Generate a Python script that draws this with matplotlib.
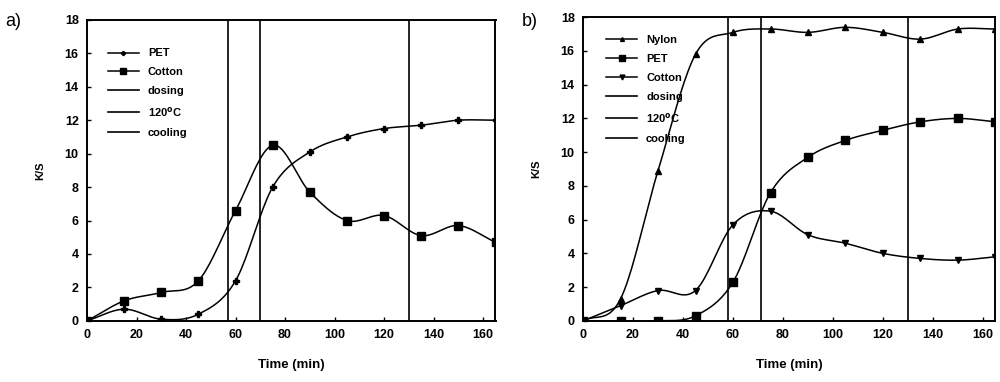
import numpy as np
import matplotlib
matplotlib.use("Agg")
import matplotlib.pyplot as plt

plt.rcParams["font.family"] = ["Liberation Sans", "DejaVu Sans"]
plt.rcParams["font.weight"] = "bold"

# --- data ----------------------------------------------------------------
TIME = [0, 15, 30, 45, 60, 75, 90, 105, 120, 135, 150, 165]

# panel a
A_PET = [0.0, 0.7, 0.1, 0.4, 2.4, 8.0, 10.1, 11.0, 11.5, 11.7, 12.0, 12.0]
A_COTTON = [0.0, 1.2, 1.7, 2.4, 6.6, 10.5, 7.7, 6.0, 6.3, 5.1, 5.7, 4.7]
A_PHASES = [57, 70, 130]

# panel b
B_NYLON = [0.0, 1.3, 8.9, 15.8, 17.1, 17.3, 17.1, 17.4, 17.1, 16.7, 17.3, 17.3]
B_PET = [0.0, 0.0, 0.0, 0.3, 2.3, 7.6, 9.7, 10.7, 11.3, 11.8, 12.0, 11.8]
B_COTTON = [0.0, 0.9, 1.8, 1.8, 5.7, 6.5, 5.1, 4.6, 4.0, 3.7, 3.6, 3.8]
B_PHASES = [58, 71, 130]

PHASE_LABELS = ["dosing", "120$^{\\rm o}$C", "cooling"]
XTICKS = [0, 20, 40, 60, 80, 100, 120, 140, 160]
YTICKS = [0, 2, 4, 6, 8, 10, 12, 14, 16, 18]


def smooth(x, y, n=20):
    """Catmull-Rom curve through the points (like Excel's smoothed line)."""
    x = np.asarray(x, float)
    y = np.asarray(y, float)
    px = np.concatenate([[2 * x[0] - x[1]], x, [2 * x[-1] - x[-2]]])
    py = np.concatenate([[2 * y[0] - y[1]], y, [2 * y[-1] - y[-2]]])
    xs, ys = [], []
    t = np.linspace(0, 1, n, endpoint=False)
    for i in range(1, len(px) - 2):
        for arr, out in ((px, xs), (py, ys)):
            p0, p1, p2, p3 = arr[i - 1], arr[i], arr[i + 1], arr[i + 2]
            out.extend(0.5 * ((2 * p1) + (-p0 + p2) * t
                              + (2 * p0 - 5 * p1 + 4 * p2 - p3) * t ** 2
                              + (-p0 + 3 * p1 - 3 * p2 + p3) * t ** 3))
    xs.append(x[-1])
    ys.append(y[-1])
    return np.array(xs), np.array(ys)


def draw_series(ax, y, marker, ms, label):
    sx, sy = smooth(TIME, y)
    ax.plot(sx, sy, color="black", lw=1.1)
    ax.plot(TIME, y, ls="none", marker=marker, ms=ms, color="black")
    ax.plot([], [], color="black", lw=1.1, marker=marker, ms=ms, label=label)


def style_axes(ax, phases):
    for xv, lab in zip(phases, PHASE_LABELS):
        ax.axvline(xv, color="black", lw=1.2, label=lab)
    ax.set_xlim(0, 165)
    ax.set_ylim(0, 18)
    ax.set_xticks(XTICKS)
    ax.set_yticks(YTICKS)
    ax.tick_params(direction="in", length=3, width=1, labelsize=9, pad=6)
    for s in ax.spines.values():
        s.set_linewidth(1.4)
    ax.set_xlabel("Time (min)", fontsize=9.5, fontweight="bold", labelpad=13)
    ax.set_ylabel("K/S", fontsize=8, fontweight="bold", labelpad=14)


fig = plt.figure(figsize=(10, 3.82), dpi=100)

ax1 = fig.add_axes([0.087, 0.16, 0.4085, 0.788])
draw_series(ax1, A_PET, "P", 4, "PET")
draw_series(ax1, A_COTTON, "s", 6, "Cotton")
style_axes(ax1, A_PHASES)
ax1.legend(loc="upper left", bbox_to_anchor=(0.04, 0.92), frameon=False,
           fontsize=8, handlelength=2.8, labelspacing=0.8, borderaxespad=0,
           markerscale=0.7)
fig.text(0.005, 0.945, "a)", fontsize=13, fontweight="normal", va="center")

ax2 = fig.add_axes([0.583, 0.16, 0.4125, 0.795])
draw_series(ax2, B_NYLON, "^", 4, "Nylon")
draw_series(ax2, B_PET, "s", 6, "PET")
draw_series(ax2, B_COTTON, "v", 5, "Cotton")
style_axes(ax2, B_PHASES)
ax2.legend(loc="upper left", bbox_to_anchor=(0.045, 0.955), frameon=False,
           fontsize=8, handlelength=2.8, labelspacing=0.8, borderaxespad=0,
           markerscale=0.7)
fig.text(0.522, 0.945, "b)", fontsize=13, fontweight="normal", va="center")

fig.savefig("out.png", dpi=100)
